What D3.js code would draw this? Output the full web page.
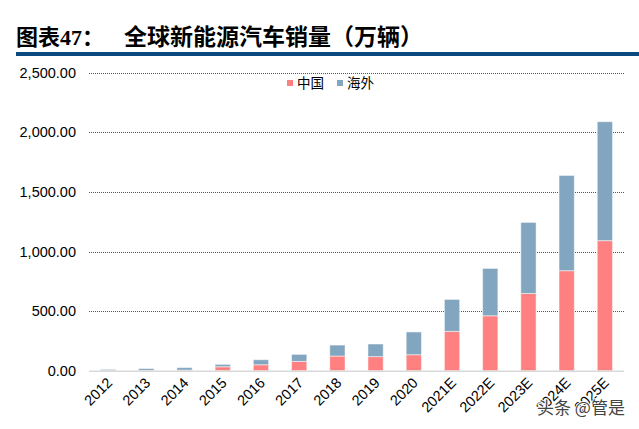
<!DOCTYPE html>
<html><head><meta charset="utf-8">
<script src="https://cdn.jsdelivr.net/npm/d3@7"></script>
<style>body{margin:0;background:#fff;}svg{display:block;}</style>
</head><body>
<script>
const categories = ["2012","2013","2014","2015","2016","2017","2018","2019","2020","2021E","2022E","2023E","2024E","2025E"];
const china    = [1.5, 2, 5, 33, 50, 78, 123, 118, 134, 330, 461, 648, 839, 1091];
const overseas = [9.5, 16, 21, 20, 42, 59, 92, 106, 191, 268, 397, 596, 799, 998];
const seriesNames = ["中国","海外"];
const yTicks = [0, 500, 1000, 1500, 2000, 2500];

const W = 639, H = 429;
const svg = d3.select("body").append("svg").attr("width", W).attr("height", H);
const font = "'Liberation Sans', Arial, sans-serif";
const cjk = "'Noto Sans CJK SC', sans-serif";

// title
const t1 = svg.append("text").attr("x", 16).attr("y", 45)
  .attr("font-weight", "bold").attr("font-size", 22).attr("fill", "#000");
t1.append("tspan").attr("font-family", cjk).text("图表");
t1.append("tspan").attr("font-family", "'Liberation Serif', serif").text("47");
t1.append("tspan").attr("font-family", cjk).text("：");
svg.append("text").attr("x", 124).attr("y", 45)
  .attr("font-family", cjk).attr("font-weight", "bold")
  .attr("font-size", 23).attr("fill", "#000")
  .text("全球新能源汽车销量（万辆）");
svg.append("rect").attr("x", 16).attr("y", 52).attr("width", W - 16).attr("height", 4).attr("fill", "#0B4A80");

const m = {left: 89, right: 624, top: 72.7, bottom: 370.7};
const x = d3.scaleBand().domain(categories).range([m.left, m.right]).paddingInner(0.6).paddingOuter(0.3);
const y = d3.scaleLinear().domain([0, 2500]).range([m.bottom, m.top]);

// grid
svg.append("g").selectAll("line").data(yTicks.filter(d => d > 0)).join("line")
  .attr("x1", m.left).attr("x2", m.right)
  .attr("y1", d => Math.round(y(d)) + 0.5).attr("y2", d => Math.round(y(d)) + 0.5)
  .attr("stroke", "#555").attr("stroke-width", 1).attr("stroke-dasharray", "1,1");

// y labels
svg.append("g").selectAll("text").data(yTicks).join("text")
  .attr("x", 76).attr("y", d => y(d) + 5)
  .attr("text-anchor", "end").attr("font-family", font).attr("font-size", 14.5).attr("fill", "#000")
  .text(d => d3.format(",.2f")(d));

// stacked bars
const rows = categories.map((c, i) => ({cat: c, "中国": china[i], "海外": overseas[i]}));
const stack = d3.stack().keys(seriesNames)(rows);
const colors = {"中国": "#FF8080", "海外": "#82A6BF"};
svg.append("g").selectAll("g").data(stack).join("g")
  .attr("fill", d => colors[d.key])
  .selectAll("rect").data(d => d).join("rect")
  .attr("x", d => x(d.data.cat)).attr("width", x.bandwidth())
  .attr("y", d => y(d[1])).attr("height", d => y(d[0]) - y(d[1]))
  .attr("stroke", "#ffffff").attr("stroke-opacity", 0.5).attr("stroke-width", 1);

// baseline
svg.append("line").attr("x1", m.left).attr("x2", m.right)
  .attr("y1", m.bottom + 0.5).attr("y2", m.bottom + 0.5)
  .attr("stroke", "#d9d9d9").attr("stroke-width", 1.5);

// x labels
svg.append("g").selectAll("text").data(categories).join("text")
  .attr("transform", d => `translate(${x(d) + x.bandwidth() / 2 + 5},${m.bottom + 13}) rotate(-45)`)
  .attr("text-anchor", "end").attr("font-family", font).attr("font-size", 14.5).attr("fill", "#000")
  .text(d => d);

// legend
const lg = svg.append("g").attr("font-family", cjk).attr("font-size", 13.5).attr("fill", "#000");
const lx = [287, 337];
seriesNames.forEach((n, i) => {
  lg.append("rect").attr("x", lx[i]).attr("y", 80).attr("width", 6).attr("height", 6).attr("fill", colors[n]);
  lg.append("text").attr("x", lx[i] + 10).attr("y", 88).text(n);
});

// watermark
svg.append("text").attr("x", 537).attr("y", 414)
  .attr("font-family", cjk).attr("font-size", 17).attr("fill", "#444")
  .attr("stroke", "#fff").attr("stroke-width", 2).attr("paint-order", "stroke")
  .text("头条 @管是");
</script>
</body></html>
